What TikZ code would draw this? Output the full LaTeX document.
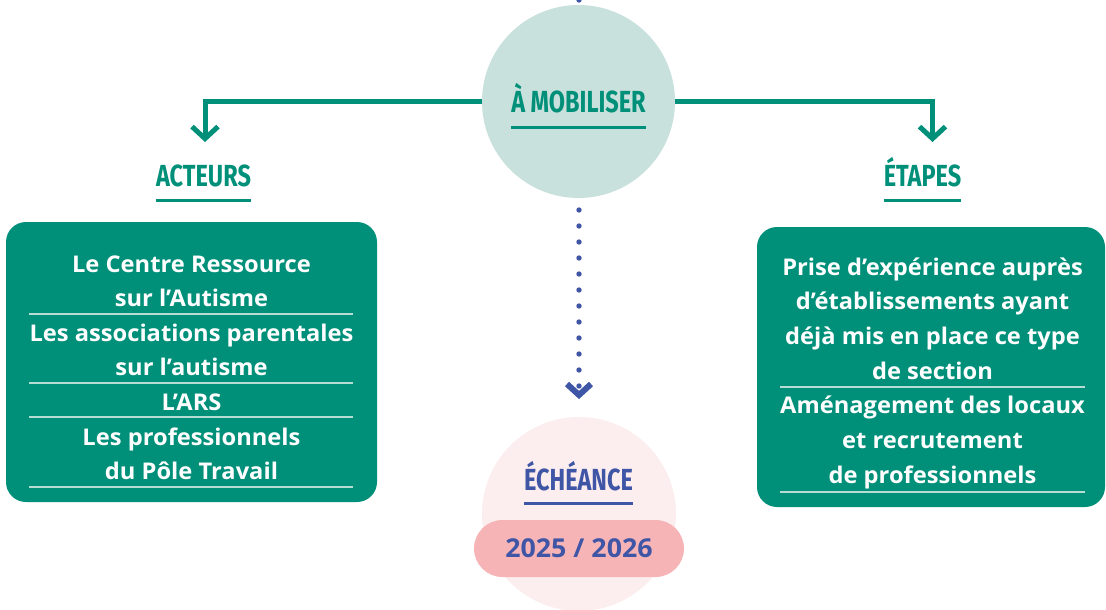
\documentclass[tikz,border=0pt]{standalone}
\usepackage{fontspec}
\setmainfont[FakeStretch=1.03]{Open Sans}
\newfontfamily\headfont[FakeStretch=0.77]{Fira Sans}
\usetikzlibrary{arrows.meta}
\definecolor{tgreen}{HTML}{00907A}
\definecolor{mobc}{HTML}{C9E1DC}
\definecolor{bluec}{HTML}{3F55A5}
\definecolor{pinkc}{HTML}{FCEDEE}
\definecolor{pillc}{HTML}{F7B4B7}
\definecolor{sepc}{HTML}{B5DDD3}
\begin{document}
\begin{tikzpicture}[x=1pt,y=-1pt,
  body/.style={font=\fontsize{23}{26}\selectfont\bfseries, text=white, anchor=base, inner sep=0pt},
  head/.style={font=\headfont\fontsize{30.5}{32}\selectfont\bfseries, anchor=base, inner sep=0pt},
  sepline/.style={draw=sepc, line width=1.2pt},
  tline/.style={draw=tgreen, line width=5pt, line join=miter},
  uline/.style={line width=3pt},
  dotline/.style={draw=bluec, line width=5.4pt, line cap=round, dash pattern=on 0pt off 16pt},
  box/.style={fill=tgreen, rounded corners=20pt, minimum height=280pt, inner sep=0pt},
  disc/.style={circle, inner sep=0pt}]
\useasboundingbox (0,0) rectangle (1106,610);
\clip (0,0) rectangle (1106,610);

% circles
\node[disc, fill=mobc, minimum size=193pt] (mob) at (578.5,101.5) {};
\node[disc, fill=bluec, minimum size=5.4pt] (topdot) at (579,0) {};
\node[disc, fill=pinkc, minimum size=194pt] (ech) at (579,514) {};
\node[fill=pillc, rounded corners=28.5pt, minimum width=210pt, minimum height=57pt, inner sep=0pt] (pill) at (579,548.5) {};
\node[font=\fontsize{26}{30}\selectfont\bfseries, text=bluec, anchor=base, inner sep=0pt] (year) at (579,557) {2025 / 2026};

% headings
\node[head, text=tgreen] (mobt) at (578.5,113) {À MOBILISER};
\draw[uline, tgreen] ([yshift=-14pt]mobt.base west) -- ([yshift=-14pt]mobt.base east);
\node[head, text=tgreen] (act) at (203.5,186) {ACTEURS};
\draw[uline, tgreen] ([yshift=-14pt]act.base west) -- ([yshift=-14pt]act.base east);
\node[head, text=tgreen] (eta) at (922.5,186) {ÉTAPES};
\draw[uline, tgreen] ([yshift=-14pt]eta.base west) -- ([yshift=-14pt]eta.base east);
\node[head, text=bluec] (echt) at (578.5,490) {ÉCHÉANCE};
\draw[uline, bluec] ([yshift=-13pt]echt.base west) -- ([yshift=-13pt]echt.base east);

% connectors
\coordinate (aend) at (205,142);
\coordinate (eend) at (932.5,142);
\draw[tline, -{Straight Barb[length=12pt,width=26pt]}] (mob.west) -| (aend);
\draw[tline, -{Straight Barb[length=12pt,width=26pt]}] (mob.east) -| (eend);
\coordinate (dstart) at (579,210);
\coordinate (dend) at (579,386);
\coordinate (chev) at (579,395);
\draw[dotline] (dstart) -- (dend);
\draw[draw=bluec, line width=6pt, line join=miter] (567,384) -- (chev) -- (591,384);

% left box
\node[box, minimum width=371pt] (lbox) at (191.5,362) {};
\node[body] (l1) at (191.5,272) {Le Centre Ressource};
\node[body] (l2) at (191.5,306.5) {sur l’Autisme};
\node[body] (l3) at (191.5,341) {Les associations parentales};
\node[body] (l4) at (191.5,375.5) {sur l’autisme};
\node[body] (l5) at (191.5,410) {L’ARS};
\node[body] (l6) at (191.5,445) {Les professionnels};
\node[body] (l7) at (191.5,479.5) {du Pôle Travail};
\draw[sepline] (29,314) -- (353,314);
\draw[sepline] (29,383) -- (353,383);
\draw[sepline] (29,417) -- (353,417);
\draw[sepline] (29,487) -- (353,487);

% right box
\node[box, minimum width=348pt] (rbox) at (931,367) {};
\node[body] (r1) at (932.5,275) {Prise d’expérience auprès};
\node[body] (r2) at (932.5,309.7) {d’établissements ayant};
\node[body] (r3) at (932.5,344.4) {déjà mis en place ce type};
\node[body] (r4) at (932.5,379) {de section};
\node[body] (r5) at (932.5,413.8) {Aménagement des locaux};
\node[body] (r6) at (932.5,448.5) {et recrutement};
\node[body] (r7) at (932.5,483) {de professionnels};
\draw[sepline] (780,387) -- (1085,387);
\draw[sepline] (780,492) -- (1085,492);
\end{tikzpicture}
\end{document}
